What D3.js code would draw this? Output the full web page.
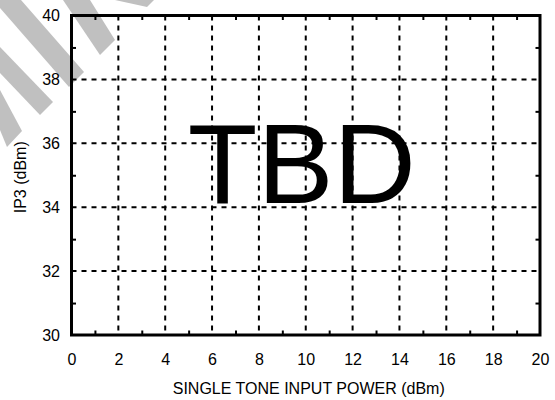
<!DOCTYPE html>
<html>
<head>
<meta charset="utf-8">
<script src="https://cdn.jsdelivr.net/npm/d3@7/dist/d3.min.js"></script>
<style>
	body { margin: 0; background: #fff; }
	text { font-family: "Liberation Sans", Arial, Helvetica, sans-serif; fill: #000; }
</style>
</head>
<body>
<div id="chart"></div>
<script>

// axis ranges and ticks
var xDomain = [0, 20];
var yDomain = [30, 40];
var xTicks = [0, 2, 4, 6, 8, 10, 12, 14, 16, 18, 20];
var yTicks = [30, 32, 34, 36, 38, 40];
var xGrid = [2, 4, 6, 8, 10, 12, 14, 16, 18];
var yGrid = [32, 34, 36, 38];
var xMinor = [1, 3, 5, 7, 9, 11, 13, 15, 17, 19];
var yMinor = [31, 33, 35, 37, 39];

// texts
var xTitle = "SINGLE TONE INPUT POWER (dBm)";
var yTitle = "IP3 (dBm)";
var note = "TBD";

// grey watermark pieces in the top left corner (decoration, page pixels)
var watermark = [
	[[115, 0], [154, 0], [147, 7]],
	[[63, 0], [90, 0], [115, 40], [100, 55]],
	[[0, 8], [0, 0], [21, 0], [84, 72], [69, 87]],
	[[0, 47], [53, 102], [40, 115], [0, 73]],
	[[0, 90], [22, 131], [7, 147], [0, 130]]
];

var W = 555, H = 400;
var margin = {top: 15.5, right: 15, bottom: 65, left: 71.5};
var width = W - margin.left - margin.right,
	height = H - margin.top - margin.bottom;

var svg = d3.select("#chart").append("svg")
	.attr("width", W)
	.attr("height", H);

// watermark first, under everything
svg.append("g")
	.selectAll("polygon")
	.data(watermark)
	.enter()
	.append("polygon")
	.attr("points", function(d) { return d.join(" "); })
	.attr("fill", "#c0c0c0");

var x = d3.scaleLinear().domain(xDomain).range([0, width]);
var y = d3.scaleLinear().domain(yDomain).range([height, 0]);

var g = svg.append("g")
	.attr("transform", "translate(" + margin.left + "," + margin.top + ")");

// dashed grid
g.selectAll("line.vgrid")
	.data(xGrid)
	.enter()
	.append("line")
	.attr("class", "vgrid")
	.attr("x1", function(d) { return x(d); })
	.attr("x2", function(d) { return x(d); })
	.attr("y1", 0)
	.attr("y2", height)
	.attr("stroke", "#000")
	.attr("stroke-width", 2)
	.attr("stroke-dasharray", "5,5");

g.selectAll("line.hgrid")
	.data(yGrid)
	.enter()
	.append("line")
	.attr("class", "hgrid")
	.attr("x1", 0)
	.attr("x2", width)
	.attr("y1", function(d) { return y(d); })
	.attr("y2", function(d) { return y(d); })
	.attr("stroke", "#000")
	.attr("stroke-width", 2)
	.attr("stroke-dasharray", "5,5");

// minor ticks, inside, on all four sides
var tickLen = 4.5;
g.append("g")
	.call(d3.axisBottom(x).tickValues(xMinor).tickSize(-tickLen).tickFormat(""))
	.attr("transform", "translate(0," + height + ")");
g.append("g")
	.call(d3.axisTop(x).tickValues(xMinor).tickSize(-tickLen).tickFormat(""));
g.append("g")
	.call(d3.axisLeft(y).tickValues(yMinor).tickSize(-tickLen).tickFormat(""));
g.append("g")
	.call(d3.axisRight(y).tickValues(yMinor).tickSize(-tickLen).tickFormat(""))
	.attr("transform", "translate(" + width + ",0)");
g.selectAll(".domain").remove();
g.selectAll(".tick line").attr("stroke-width", 2);

// tick labels
var xAxis = g.append("g")
	.attr("transform", "translate(0," + height + ")")
	.call(d3.axisBottom(x).tickValues(xTicks).tickSize(0).tickPadding(18.6));
var yAxis = g.append("g")
	.call(d3.axisLeft(y).tickValues(yTicks).tickSize(0).tickPadding(11.5));
[xAxis, yAxis].forEach(function(a) {
	a.select(".domain").remove();
	a.selectAll("text")
		.style("font-size", "16px")
		.style("font-family", "'Liberation Sans', Arial, sans-serif")
		.attr("fill", "#000");
});

// frame
g.append("rect")
	.attr("x", 0)
	.attr("y", 0)
	.attr("width", width)
	.attr("height", height)
	.attr("fill", "none")
	.attr("stroke", "#000")
	.attr("stroke-width", 3);

// big note in the middle
g.append("text")
	.attr("x", x(10) - 4)
	.attr("y", 187.5)
	.attr("text-anchor", "middle")
	.style("font-size", "114px")
	.text(note);

// axis titles
svg.append("text")
	.attr("x", margin.left + width / 2 + 3)
	.attr("y", 394)
	.attr("text-anchor", "middle")
	.style("font-size", "16px")
	.text(xTitle);

svg.append("text")
	.attr("transform", "translate(26," + (margin.top + height / 2 + 2) + ") rotate(-90)")
	.attr("text-anchor", "middle")
	.style("font-size", "16px")
	.text(yTitle);

</script>
</body>
</html>
